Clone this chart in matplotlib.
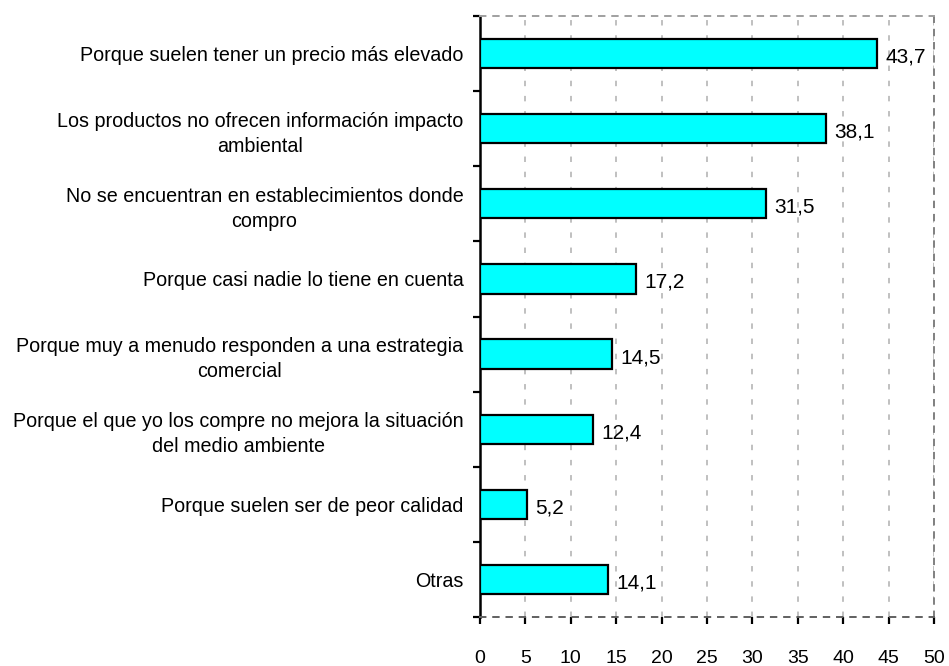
import numpy as np
import matplotlib.pyplot as plt

plt.rcParams['font.family'] = ['Liberation Sans', 'DejaVu Sans']

categorias = [
    "Porque suelen tener un precio más elevado",
    "Los productos no ofrecen información impacto\nambiental",
    "No se encuentran en establecimientos donde\ncompro",
    "Porque casi nadie lo tiene en cuenta",
    "Porque muy a menudo responden a una estrategia\ncomercial",
    "Porque el que yo los compre no mejora la situación\ndel medio ambiente",
    "Porque suelen ser de peor calidad",
    "Otras",
]
valores = [43.7, 38.1, 31.5, 17.2, 14.5, 12.4, 5.2, 14.1]
xticks = [0, 5, 10, 15, 20, 25, 30, 35, 40, 45, 50]

fig = plt.figure(figsize=(9.49, 6.66), dpi=100)
ax = fig.add_axes([480/949, 1 - 617/666, 454/949, 601/666])

y = np.arange(len(categorias))
ax.barh(y, valores, height=0.39, color='#00ffff', edgecolor='black', linewidth=1.6, zorder=3)

for yi, v in zip(y, valores):
    ax.annotate(f"{v:.1f}".replace('.', ','), (v, yi), xytext=(6, -2.5),
                textcoords='offset points', va='center', ha='left', fontsize=15)

ax.set_xlim(0, 50)
ax.set_ylim(len(categorias) - 0.5, -0.5)
ax.set_xticks(xticks)
ax.set_xticklabels([str(t) for t in xticks])
ax.set_yticks(y)
ax.set_yticklabels(categorias)
for lab in ax.get_yticklabels():
    lab.set_multialignment('center')
    lab.set_linespacing(1.4)
ax.set_yticks(np.arange(len(categorias) + 1) - 0.5, minor=True)

ax.tick_params(axis='y', which='major', length=0, pad=12, labelsize=14.2)
ax.tick_params(axis='y', which='minor', length=5, width=1.6, color='black', direction='out')
ax.tick_params(axis='x', which='major', length=5, width=1.6, color='black', pad=19, labelsize=14)

ax.grid(axis='x', color='#c0c0c0', linestyle=(0, (2.8, 5)), linewidth=1.4, zorder=0)

ax.spines['left'].set_linewidth(1.8)
ax.spines['left'].set_color('black')
for s in ['top', 'right', 'bottom']:
    ax.spines[s].set_linestyle((0, (2.8, 4)))
    ax.spines[s].set_linewidth(1.4)
ax.spines['top'].set_color('#a0a0a0')
ax.spines['right'].set_color('#808080')
ax.spines['bottom'].set_color('#606060')

fig.savefig('out.png', dpi=100)
